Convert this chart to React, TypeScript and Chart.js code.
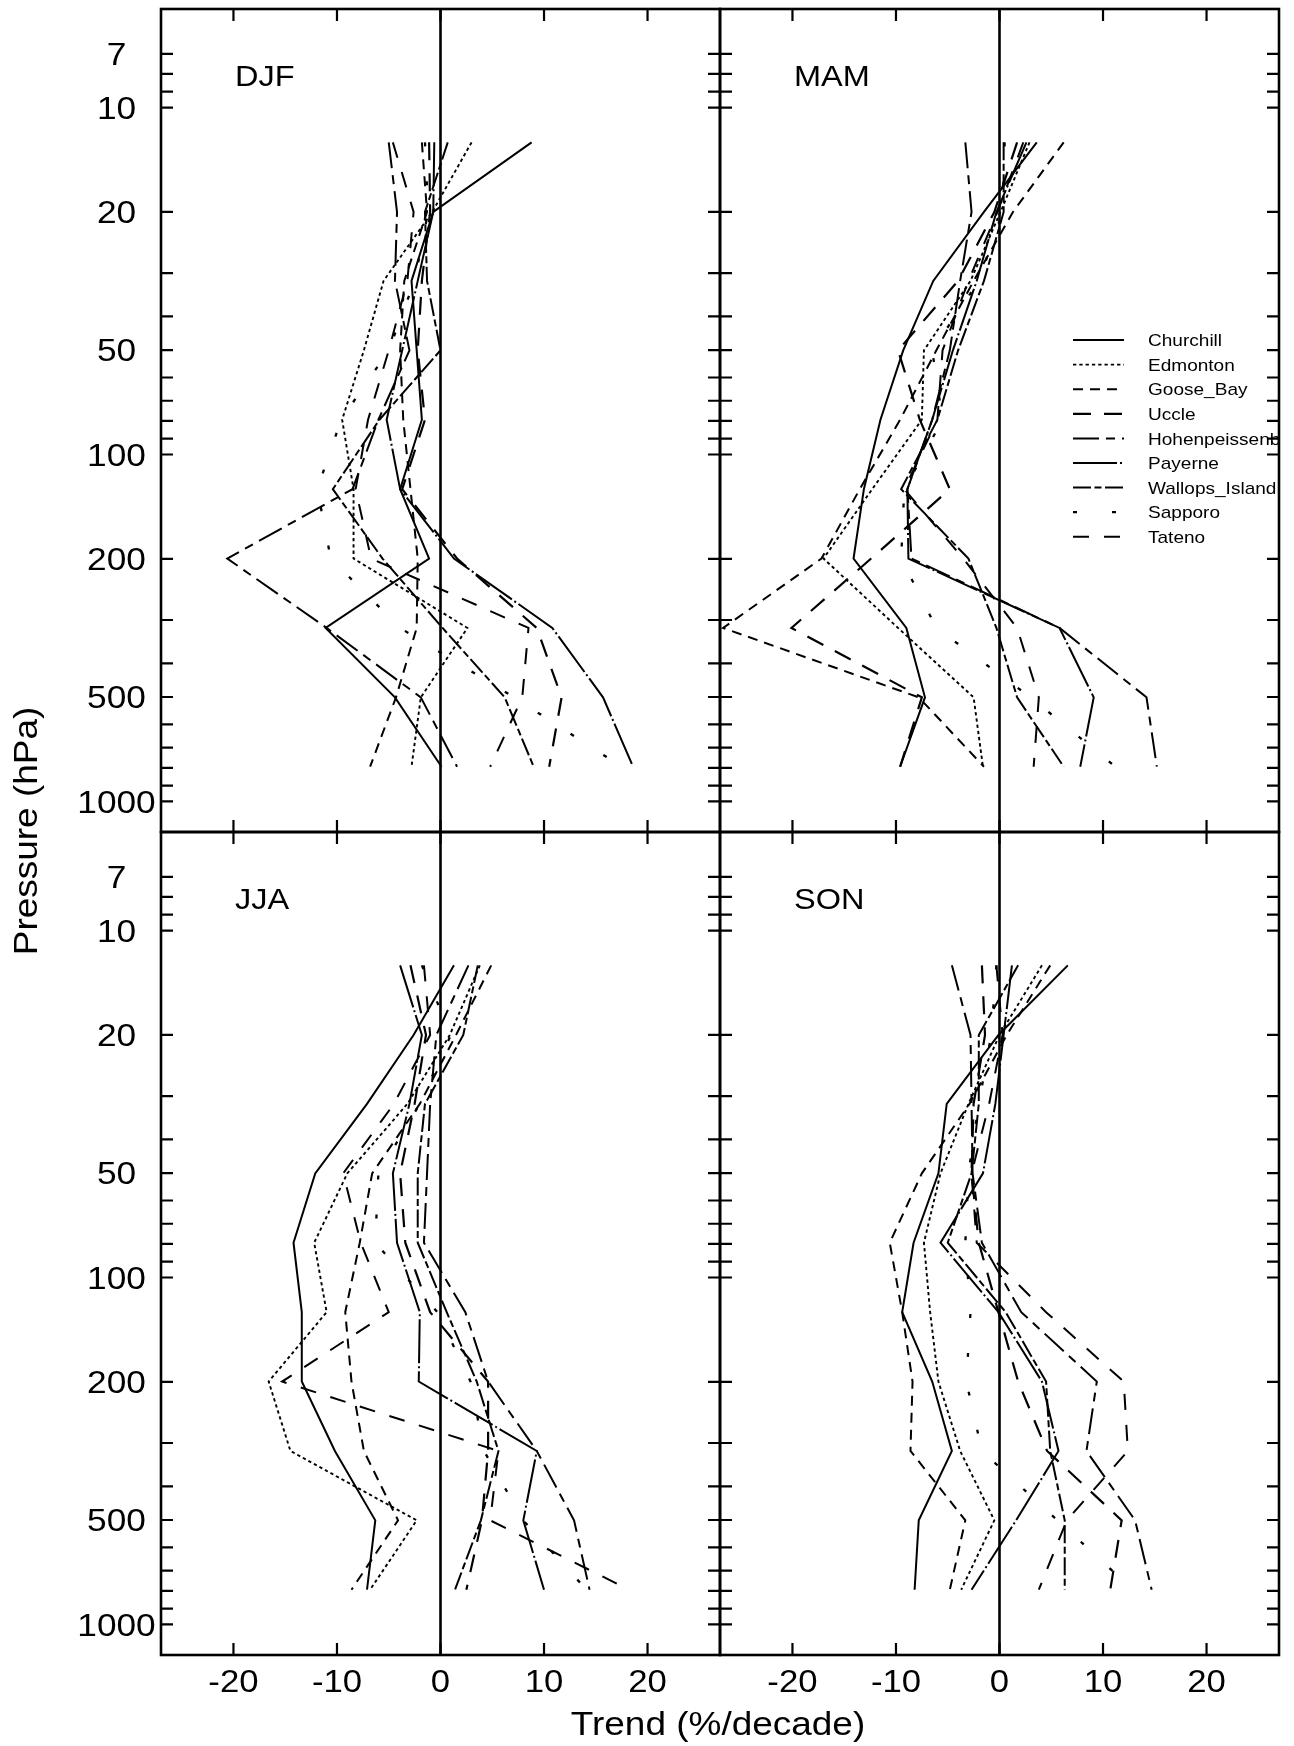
import React, { useEffect, useRef } from "react";
import { Chart, registerables } from "chart.js";

Chart.register(...registerables);

const PAGE_W = 1294;
const PAGE_H = 1746;
const FONT = '"Liberation Sans", Arial, Helvetica, sans-serif';
const STRETCH = 1.12;

// ---- data ----
const pressureLevels = [12.6, 20.0, 31.6, 50.1, 79.4, 125.9, 199.5, 316.2, 501.2, 794.3];
const stationNames = [
  "Churchill",
  "Edmonton",
  "Goose_Bay",
  "Uccle",
  "Hohenpeissenberg",
  "Payerne",
  "Wallops_Island",
  "Sapporo",
  "Tateno",
];
const seasonNames = ["DJF", "MAM", "JJA", "SON"];
const xTickValues = [-20, -10, 0, 10, 20];
const xTickLabels = ["-20", "-10", "0", "10", "20"];
const yTickValues = [7, 8, 9, 10, 20, 30, 40, 50, 60, 70, 80, 90, 100, 200, 300, 400, 500, 600, 700, 800, 900, 1000];
const yLabelValues = [7, 10, 20, 50, 100, 200, 500, 1000];
const xAxisTitle = "Trend (%/decade)";
const yAxisTitle = "Pressure (hPa)";

// DJF
const djfChurchill = [8.8, -0.7, -2.8, -2.3, -1.8, -3.9, -1.1, -11.1, -4.4, 0.1];
const djfEdmonton = [3.0, -0.8, -5.5, -7.4, -9.5, -8.4, -8.4, 2.6, -1.9, -2.8];
const djfGooseBay = [-1.8, -1.3, -3.5, -3.9, -3.6, -2.9, -2.2, -2.3, -4.3, -6.8];
const djfUccle = [-1.1, -1.0, -1.8, -2.2, -1.5, -3.7, 1.6, 9.3, 11.7, 10.5];
const djfHohenpeissenberg = [-5.0, -4.2, -4.4, -3.0, -6.0, -8.5, -20.6, -11.0, -1.9, 1.6];
const djfPayerne = [-0.6, -0.7, -2.2, -3.7, -5.2, -3.9, 1.3, 10.8, 15.7, 18.6];
const djfWallops = [0.7, -1.5, -1.3, 0.0, -5.9, -10.4, -5.6, 0.2, 6.2, 9.0];
const djfSapporo = [-1.5, -1.2, -2.5, -5.0, -9.6, -11.9, -10.6, -3.9, 7.1, 17.5];
const djfTateno = [-4.6, -2.6, -3.2, -5.0, -7.0, -8.2, -6.7, 8.5, 7.9, 4.8];

// MAM
const mamChurchill = [3.6, -1.5, -6.4, -9.3, -11.5, -13.1, -14.1, -9.0, -7.2, -9.6];
const mamEdmonton = [2.9, 0.1, -2.8, -7.3, -7.5, -12.3, -17.0, -9.8, -2.5, -1.6];
const mamGooseBay = [6.2, 1.3, -2.5, -6.1, -9.6, -13.5, -17.2, -26.7, -7.8, -1.5];
const mamUccle = [1.7, -0.5, -4.0, -9.8, -7.7, -4.8, -12.4, -20.1, -7.5, -9.6];
const mamHohenpeissenberg = [-3.3, -2.7, -3.8, -4.8, -6.5, -8.9, -8.5, 5.8, 14.2, 15.2];
const mamPayerne = [2.6, -0.3, -2.2, -4.5, -6.5, -8.9, -8.8, 5.8, 9.1, 7.8];
const mamWallops = [0.4, 0.4, -1.5, -4.0, -6.0, -9.5, -3.0, -0.3, 1.7, 6.2];
const mamSapporo = [0.5, 0.3, -2.0, -6.5, -5.5, -9.2, -9.5, -6.1, 3.0, 11.2];
const mamTateno = [2.3, -0.2, -3.0, -5.5, -6.0, -9.2, -3.5, 1.7, 3.8, 3.3];

// JJA
const jjaChurchill = [1.3, -2.6, -7.1, -12.1, -14.2, -13.4, -13.4, -10.2, -6.3, -7.1];
const jjaEdmonton = [3.8, 0.9, -3.2, -9.0, -12.2, -11.0, -16.6, -14.5, -2.3, -6.8];
const jjaGooseBay = [4.9, 1.5, -2.0, -6.6, -7.8, -9.2, -8.6, -7.4, -4.1, -8.6];
const jjaUccle = [-2.9, -1.4, -2.5, -3.9, -3.4, -1.0, 4.6, 4.6, 4.0, 2.5];
const jjaHohenpeissenberg = [2.7, -0.4, -1.0, -1.3, -1.6, 2.4, 4.6, 9.3, 12.9, 14.4];
const jjaPayerne = [-3.9, -1.8, -3.0, -4.6, -4.2, -2.0, -2.1, 9.3, 8.0, 10.0];
const jjaWallops = [3.6, 2.2, -1.5, -2.2, -2.2, 0.6, 3.5, 5.6, 3.9, 1.4];
const jjaSapporo = [-1.8, 1.0, -2.0, -6.0, -6.3, -0.3, 2.9, 4.2, 8.0, 14.1];
const jjaTateno = [-1.6, -1.0, -4.5, -9.4, -7.7, -5.0, -15.3, 5.6, 4.8, 18.2];

// SON
const sonChurchill = [6.6, -0.1, -5.1, -5.9, -8.3, -9.4, -6.5, -4.6, -7.8, -8.2];
const sonEdmonton = [4.1, 0.0, -3.0, -5.7, -7.3, -6.7, -5.9, -3.8, -0.5, -3.7];
const sonGooseBay = [4.9, 0.7, -2.9, -7.5, -10.6, -9.4, -8.4, -8.6, -3.3, -4.8];
const sonUccle = [-1.7, -1.4, -2.5, -2.7, -2.0, -0.1, 1.8, 4.6, 11.8, 10.7];
const sonHohenpeissenberg = [-4.6, -2.8, -2.7, -2.6, -1.7, 2.1, 9.4, 8.4, 13.1, 14.7];
const sonPayerne = [1.2, 0.4, -0.4, -1.6, -5.7, -0.1, 4.1, 5.7, 1.6, -2.7];
const sonWallops = [1.8, -2.0, -2.0, -2.7, -5.0, 0.6, 4.5, 4.9, 6.3, 6.3];
const sonSapporo = [-0.3, -0.8, -2.0, -3.0, -3.3, -2.8, -3.2, -1.7, 5.6, 12.9];
const sonTateno = [-0.3, 0.3, -1.0, -2.7, -2.2, 4.5, 12.0, 12.4, 6.5, 3.8];

const djfSeries = [djfChurchill, djfEdmonton, djfGooseBay, djfUccle, djfHohenpeissenberg, djfPayerne, djfWallops, djfSapporo, djfTateno];
const mamSeries = [mamChurchill, mamEdmonton, mamGooseBay, mamUccle, mamHohenpeissenberg, mamPayerne, mamWallops, mamSapporo, mamTateno];
const jjaSeries = [jjaChurchill, jjaEdmonton, jjaGooseBay, jjaUccle, jjaHohenpeissenberg, jjaPayerne, jjaWallops, jjaSapporo, jjaTateno];
const sonSeries = [sonChurchill, sonEdmonton, sonGooseBay, sonUccle, sonHohenpeissenberg, sonPayerne, sonWallops, sonSapporo, sonTateno];

// ---- styles ----
const lineDashes: number[][] = [
  [],
  [3.3, 3],
  [10, 7],
  [18, 13],
  [26, 7, 9, 7],
  [44, 3, 2, 3],
  [18, 3.5, 7, 3.5],
  [4, 35],
  [16, 15],
];
const lineWidths = [2.0, 1.9, 2.0, 2.2, 2.0, 2.0, 2.0, 2.3, 2.0];

type Panel = {
  name: string;
  series: number[][];
  left: number;
  top: number;
  right: number;
  bottom: number;
  yLabels: boolean;
  xLabels: boolean;
  legend: boolean;
  titles: boolean;
};

const COL_L = 161;
const COL_M = 720;
const COL_R = 1279;
const ROW_T = 9;
const ROW_M = 832;
const ROW_B = 1655;

const panels: Panel[] = [
  { name: seasonNames[0], series: djfSeries, left: COL_L, top: ROW_T, right: COL_M, bottom: ROW_M, yLabels: true, xLabels: false, legend: false, titles: false },
  { name: seasonNames[1], series: mamSeries, left: COL_M, top: ROW_T, right: COL_R, bottom: ROW_M, yLabels: false, xLabels: false, legend: true, titles: false },
  { name: seasonNames[2], series: jjaSeries, left: COL_L, top: ROW_M, right: COL_M, bottom: ROW_B, yLabels: true, xLabels: true, legend: false, titles: true },
  { name: seasonNames[3], series: sonSeries, left: COL_M, top: ROW_M, right: COL_R, bottom: ROW_B, yLabels: false, xLabels: true, legend: false, titles: false },
];

function drawText(
  ctx: CanvasRenderingContext2D,
  text: string,
  x: number,
  y: number,
  align: CanvasTextAlign,
  size: number,
  rotate = 0
) {
  ctx.save();
  ctx.translate(x, y);
  if (rotate) ctx.rotate(rotate);
  ctx.scale(STRETCH, 1);
  ctx.font = `${size}px ${FONT}`;
  ctx.textAlign = align;
  ctx.textBaseline = "alphabetic";
  ctx.fillStyle = "#000";
  ctx.fillText(text, 0, 0);
  ctx.restore();
}

function makePlugin(panel: Panel) {
  return {
    id: "panelDecor" + panel.name,
    afterDraw(chart: any) {
      const ctx: CanvasRenderingContext2D = chart.ctx;
      const a = chart.chartArea;
      const xs = chart.scales.x;
      const ys = chart.scales.y;
      ctx.save();

      // legend (clipped to plot frame)
      if (panel.legend) {
        ctx.save();
        ctx.beginPath();
        ctx.rect(a.left, a.top, a.right - a.left, a.bottom - a.top);
        ctx.clip();
        stationNames.forEach((nm, i) => {
          const yy = 340 + i * 24.6;
          ctx.beginPath();
          ctx.setLineDash(lineDashes[i]);
          ctx.lineWidth = lineWidths[i];
          ctx.strokeStyle = "#000";
          ctx.moveTo(1073, yy);
          ctx.lineTo(1124, yy);
          ctx.stroke();
          ctx.setLineDash([]);
          drawText(ctx, nm, 1148, yy + 6.2, "left", 17);
        });
        ctx.restore();
      }

      ctx.strokeStyle = "#000";
      ctx.setLineDash([]);

      // zero line
      const x0 = xs.getPixelForValue(0);
      ctx.lineWidth = 2.6;
      ctx.beginPath();
      ctx.moveTo(x0, a.top);
      ctx.lineTo(x0, a.bottom);
      ctx.stroke();

      // frame
      ctx.lineWidth = 2.6;
      ctx.strokeRect(a.left, a.top, a.right - a.left, a.bottom - a.top);

      // inward ticks
      ctx.lineWidth = 2.2;
      ctx.beginPath();
      for (const v of xTickValues) {
        const px = xs.getPixelForValue(v);
        ctx.moveTo(px, a.top);
        ctx.lineTo(px, a.top + 12);
        ctx.moveTo(px, a.bottom);
        ctx.lineTo(px, a.bottom - 12);
      }
      for (const v of yTickValues) {
        const py = ys.getPixelForValue(v);
        ctx.moveTo(a.left, py);
        ctx.lineTo(a.left + 12, py);
        ctx.moveTo(a.right, py);
        ctx.lineTo(a.right - 12, py);
      }
      ctx.stroke();

      // season label
      drawText(ctx, panel.name, a.left + 74, a.top + 77, "left", 29);

      // y tick labels
      if (panel.yLabels) {
        for (const v of yLabelValues) {
          const py = ys.getPixelForValue(v);
          drawText(ctx, String(v), 116.5, py + 11.3, "center", 31.5);
        }
      }
      // x tick labels
      if (panel.xLabels) {
        xTickValues.forEach((v, i) => {
          const px = xs.getPixelForValue(v);
          drawText(ctx, xTickLabels[i], px, a.bottom + 37, "center", 31);
        });
      }
      // axis titles
      if (panel.titles) {
        drawText(ctx, xAxisTitle, 718, 1735, "center", 33);
        drawText(ctx, yAxisTitle, 37, 831, "center", 33, -Math.PI / 2);
      }
      ctx.restore();
    },
  };
}

function PanelChart({ panel }: { panel: Panel }) {
  const ref = useRef<HTMLCanvasElement>(null);
  useEffect(() => {
    const canvas = ref.current;
    if (!canvas) return;
    const chart = new Chart(canvas, {
      type: "line",
      data: {
        datasets: panel.series.map((vals, i) => ({
          label: stationNames[i],
          data: pressureLevels.map((p, k) => ({ x: vals[k], y: p })),
          borderColor: "#000",
          backgroundColor: "#000",
          borderWidth: lineWidths[i],
          borderDash: lineDashes[i],
          pointRadius: 0,
          pointHoverRadius: 0,
          fill: false,
          tension: 0,
        })),
      },
      options: {
        animation: false,
        responsive: false,
        maintainAspectRatio: false,
        devicePixelRatio: 1,
        events: [],
        layout: {
          padding: {
            left: panel.left,
            top: panel.top,
            right: PAGE_W - panel.right,
            bottom: PAGE_H - panel.bottom,
          },
        },
        plugins: {
          legend: { display: false },
          tooltip: { enabled: false },
          title: { display: false },
        },
        scales: {
          x: { type: "linear", min: -27, max: 27, display: false },
          y: { type: "logarithmic", min: 5.2, max: 1225, reverse: true, display: false },
        },
      } as any,
      plugins: [makePlugin(panel)],
    });
    return () => chart.destroy();
  }, [panel]);
  return (
    <canvas
      ref={ref}
      width={PAGE_W}
      height={PAGE_H}
      style={{ position: "absolute", left: 0, top: 0, width: PAGE_W, height: PAGE_H }}
    />
  );
}

export default function App() {
  return (
    <div
      style={{
        position: "absolute",
        left: 0,
        top: 0,
        width: PAGE_W,
        height: PAGE_H,
        background: "#fff",
        overflow: "hidden",
      }}
    >
      {panels.map((p) => (
        <PanelChart key={p.name} panel={p} />
      ))}
    </div>
  );
}
